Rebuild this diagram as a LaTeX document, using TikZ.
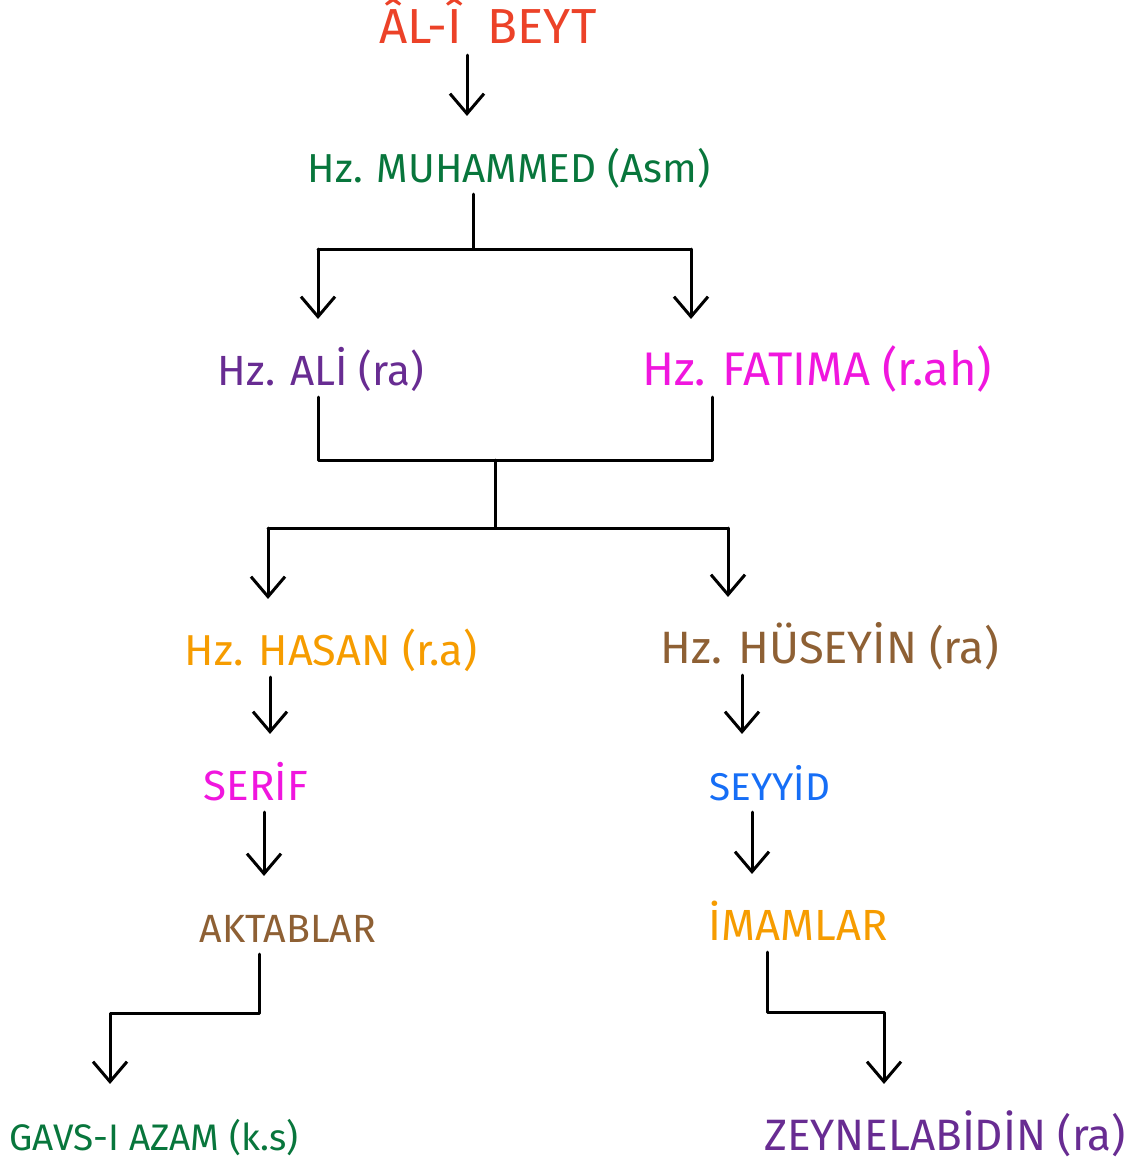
\documentclass[tikz,border=0pt]{standalone}
\usepackage{fontspec}
\setmainfont{Fira Sans}
\usetikzlibrary{arrows.meta}
\definecolor{beytred}{RGB}{236,66,40}
\definecolor{kingreen}{RGB}{8,118,60}
\definecolor{kinpurple}{RGB}{104,44,146}
\definecolor{kinpink}{RGB}{240,22,222}
\definecolor{kinorange}{RGB}{246,156,0}
\definecolor{kinbrown}{RGB}{142,96,52}
\definecolor{kinblue}{RGB}{22,110,246}
\tikzset{
  kin/.style={inner sep=0pt, outer sep=0.12cm, text height=0.3cm, text depth=0pt,
    font=\fontsize{#1}{14}\selectfont},
  kin/.default=12,
  link/.style={line width=0.03cm, line cap=round, line join=round},
  down/.style={link, -{Straight Barb[length=0.2cm,width=0.34cm,line width=0.03cm]},
    shorten >=0.24cm},
}
\begin{document}
\begin{tikzpicture}[x=0.01cm,y=-0.01cm]
                    \useasboundingbox (0,0) rectangle (1132,1160);

                    % Marking names
                    \node[kin=14, text=beytred] (beyt) at (488,28) {ÂL-Î\ \ BEYT};
                    \node[kin=11.5, text=kingreen] (muh) at (509,167) {Hz. MUHAMMED (Asm)};
                    \node[kin, text=kinpurple] (ali) at (321,370) {Hz. ALİ (ra)};
                    \node[kin=13.4, text=kinpink] (fat) at (817,370) {Hz. FATIMA (r.ah)};
                    \node[kin=12.3, text=kinorange] (has) at (331,650) {Hz. HASAN (r.a)};
                    \node[kin=12.9, text=kinbrown] (hus) at (830,648) {Hz. HÜSEYİN (ra)};
                    \node[kin, text=kinpink] (ser) at (256,785) {SERİF};
                    \node[kin=11, text=kinblue] (sey) at (770,785) {SEYYİD};
                    \node[kin=11.2, text=kinbrown] (akt) at (288,927) {AKTABLAR};
                    \node[kin=12.4, text=kinorange] (ima) at (798,925) {İMAMLAR};
                    \node[kin=10.5, text=kingreen] (gav) at (154,1135) {GAVS-I AZAM (k.s)};
                    \node[kin=12.5, text=kinpurple] (zey) at (945,1135) {ZEYNELABİDİN (ra)};

                    % Junction points
                    \coordinate (beytX) at (467,0);
                    \coordinate (muhDrop) at (473,249);
                    \coordinate (aliIn) at (318,249);
                    \coordinate (fatIn) at (691,249);
                    \coordinate (aliOut) at (318,460);
                    \coordinate (fatOut) at (712,460);
                    \coordinate (kidsTop) at (495,460);
                    \coordinate (kidsBus) at (495,528);
                    \coordinate (hasIn) at (268,528);
                    \coordinate (husIn) at (728,528);
                    \coordinate (hasX) at (270,0);
                    \coordinate (husX) at (742,0);
                    \coordinate (serX) at (264,0);
                    \coordinate (seyX) at (752,0);
                    \coordinate (aktDrop) at (259,1013);
                    \coordinate (gavIn) at (110,1013);
                    \coordinate (imaDrop) at (767,1012);
                    \coordinate (zeyIn) at (884,1012);

                    % Drawing line beyt muh
                    \draw[down] (beyt.south -| beytX) -- (beytX |- muh.north);

                    % Drawing bus muh ali fat
                    \draw[link] (muh.south -| muhDrop) -- (muhDrop);
                    \draw[link] (aliIn) -- (fatIn);
                    \draw[down] (aliIn) -- (aliIn |- ali.north);
                    \draw[down] (fatIn) -- (fatIn |- fat.north);

                    % Drawing bus ali fat has hus
                    \draw[link] (ali.south -| aliOut) -- (aliOut) -- (fatOut) -- (fat.south -| fatOut);
                    \draw[link] (kidsTop) -- (kidsBus);
                    \draw[link] (hasIn) -- (husIn);
                    \draw[down] (hasIn) -- (hasIn |- has.north);
                    \draw[down] (husIn) -- (husIn |- hus.north);

                    % Drawing lines has ser akt
                    \draw[down] (has.south -| hasX) -- (hasX |- ser.north);
                    \draw[down] (ser.south -| serX) -- (serX |- akt.north);

                    % Drawing lines hus sey ima
                    \draw[down] (hus.south -| husX) -- (husX |- sey.north);
                    \draw[down] (sey.south -| seyX) -- (seyX |- ima.north);

                    % Drawing lines akt gav, ima zey
                    \draw[down] (akt.south -| aktDrop) -- (aktDrop) -- (gavIn) -- (gavIn |- gav.north);
                    \draw[down] (ima.south -| imaDrop) -- (imaDrop) -- (zeyIn) -- (zeyIn |- zey.north);
\end{tikzpicture}
\end{document}
